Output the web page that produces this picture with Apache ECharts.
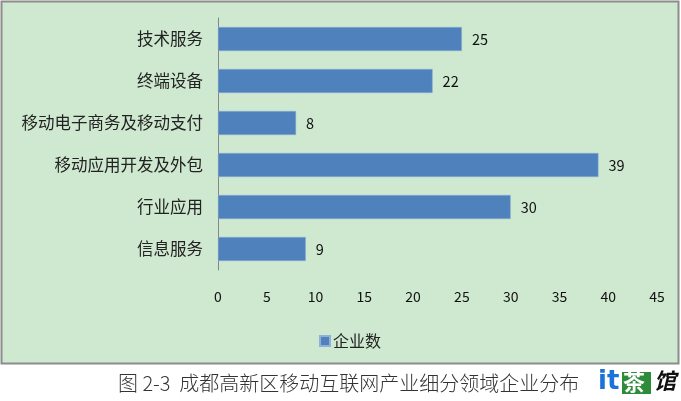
<!DOCTYPE html>
<html>
<head>
<meta charset="utf-8">
<script src="https://cdn.jsdelivr.net/npm/echarts@6/dist/echarts.min.js"></script>
<style>
html,body{margin:0;padding:0;background:#fff;}
#c{width:681px;height:401px;}
</style>
</head>
<body>
<div id="c"></div>
<script>
const categories = ['技术服务', '终端设备', '移动电子商务及移动支付', '移动应用开发及外包', '行业应用', '信息服务'];
const values = [25, 22, 8, 39, 30, 9];
const xTicks = [0, 5, 10, 15, 20, 25, 30, 35, 40, 45];
const seriesName = '企业数';
const caption = '图 2-3  成都高新区移动互联网产业细分领域企业分布';

const chart = echarts.init(document.getElementById('c'), null, {renderer: 'canvas'});
const font = '"Noto Sans CJK SC", "Noto Sans", sans-serif';
chart.setOption({
  backgroundColor: '#ffffff',
  animation: false,
  textStyle: {fontFamily: font},
  graphic: [
    {type: 'rect', z: -10, shape: {x: 1.5, y: 1.5, width: 677, height: 362},
     style: {fill: '#cfe8d0', stroke: '#8c8c8c', lineWidth: 2}},
    {type: 'text', x: 118, y: 373,
     style: {text: caption, font: '300 20px "Noto Sans CJK SC", serif', fill: '#333333'}},
    {type: 'text', x: 598, y: 369, style: {text: 'it', font: 'bold 26px "DejaVu Sans", sans-serif', fill: '#1a73d9'}},
    {type: 'rect', shape: {x: 622, y: 372, width: 29, height: 22}, style: {fill: '#2e8b3a'}},
    {type: 'text', x: 623, y: 371, style: {text: '茶', font: 'bold 22px "Noto Sans CJK SC"', fill: '#ffffff'}},
    {type: 'text', x: 654, y: 370, style: {text: '馆', font: 'italic bold 22px "Noto Sans CJK SC"', fill: '#111111'}}
  ],
  legend: {
    data: [seriesName],
    left: 314, top: 328,
    itemWidth: 10, itemHeight: 10, itemGap: 4,
    icon: 'rect',
    textStyle: {fontSize: 16, color: '#222', fontFamily: font, padding: [0,0,0,-2]}
  },
  grid: {left: 218, right: 24, top: 18, height: 252, containLabel: false},
  xAxis: {
    type: 'value', min: 0, max: 45, interval: 5,
    axisLine: {show: false}, axisTick: {show: false}, splitLine: {show: false},
    axisLabel: {fontSize: 14, color: '#111', margin: 20, fontFamily: font,
      formatter: v => xTicks.includes(v) ? String(v) : ''}
  },
  yAxis: {
    type: 'category', data: categories, inverse: true,
    axisLine: {show: true, lineStyle: {color: '#868686', width: 1}},
    axisTick: {show: false},
    axisLabel: {fontSize: 16.5, color: '#222', margin: 15, fontFamily: font}
  },
  series: [{
    name: seriesName, type: 'bar', data: values,
    barWidth: 24,
    itemStyle: {color: '#4f81bd', borderColor: '#8fb0d8', borderWidth: 0.5},
    label: {show: true, position: 'right', distance: 10, fontSize: 14.5, color: '#111', fontFamily: font}
  }]
});
</script>
</body>
</html>
